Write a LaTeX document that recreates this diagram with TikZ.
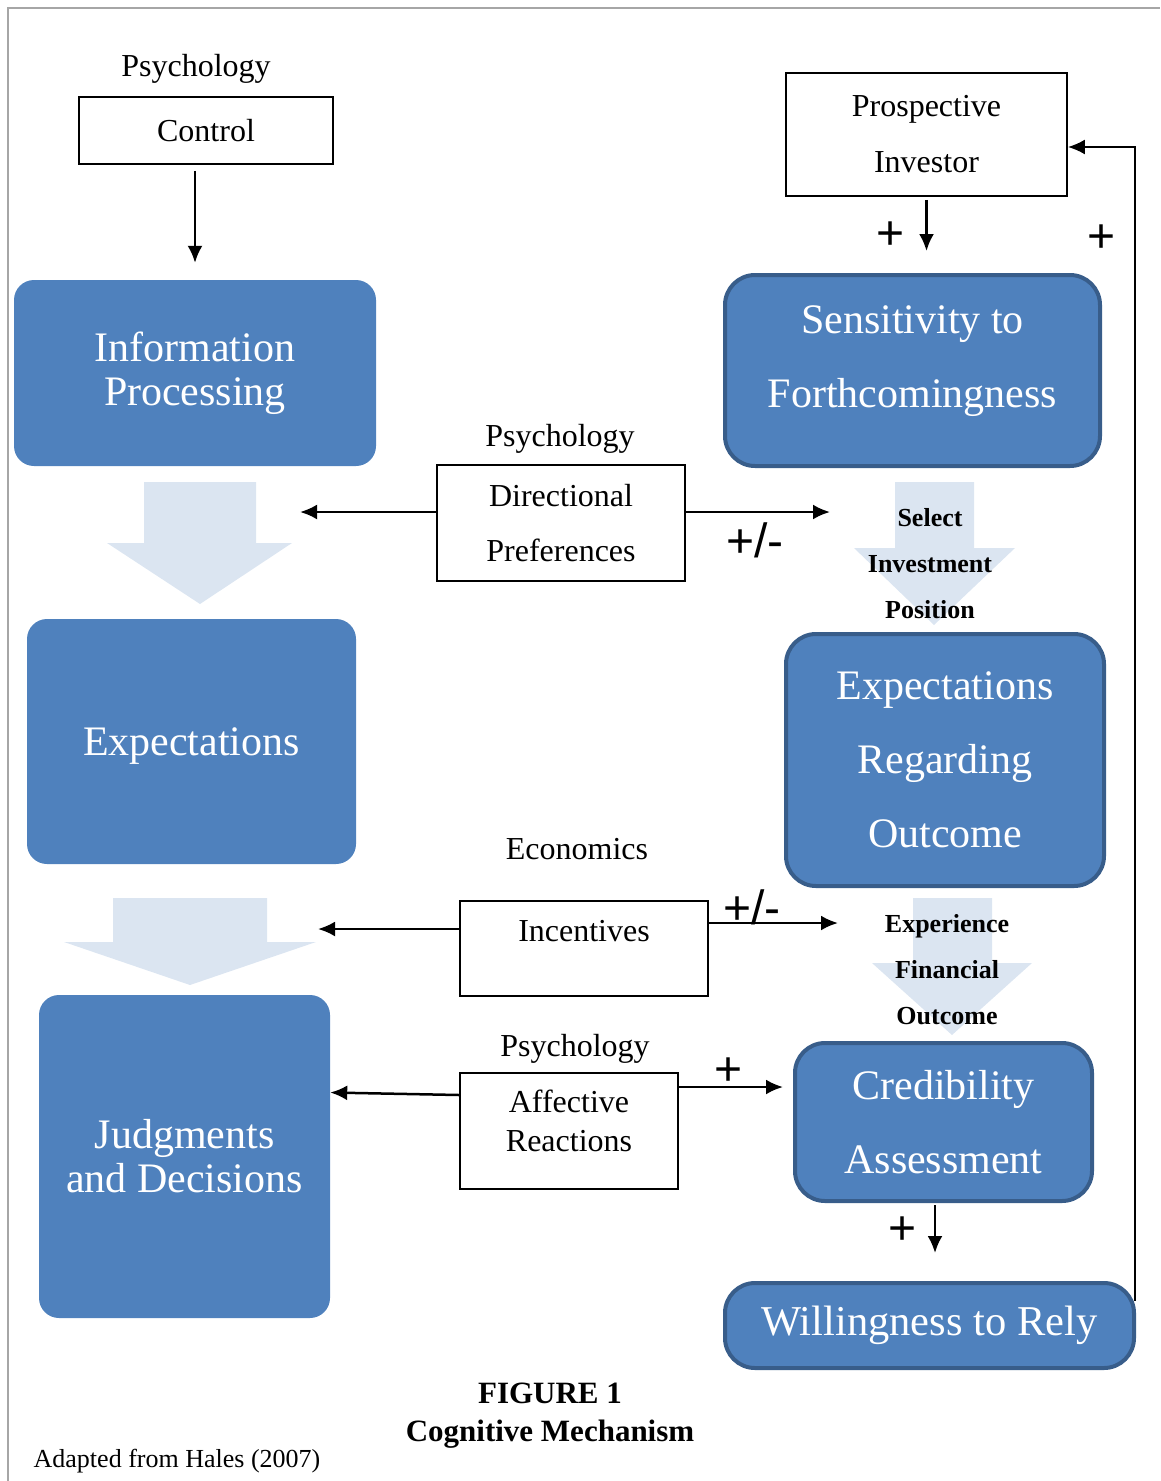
\documentclass[tikz,border=0pt]{standalone}
\usepackage{fontspec}
\setmainfont{Liberation Serif}
\newfontfamily\plusfont{Liberation Sans}
\usetikzlibrary{arrows.meta,calc}
\definecolor{boxblue}{HTML}{4F81BD}
\definecolor{boxedge}{HTML}{385D8A}
\definecolor{paleblue}{HTML}{DBE5F1}

\begin{document}
\begin{tikzpicture}[x=1pt,y=-1pt,
  blockL/.style={fill=boxblue,rounded corners=20pt,text=white,align=center,inner sep=0pt,font=\fontsize{42}{44}\selectfont},
  blockR/.style={fill=boxblue,draw=boxedge,line width=4pt,rounded corners=30pt,text=white,align=center,inner sep=0pt,font=\fontsize{42}{74}\selectfont},
  factor/.style={draw,line width=1.8pt,align=center,inner sep=0pt,font=\fontsize{32}{55}\selectfont},
  lbl/.style={yshift=-3pt,font=\fontsize{32}{38}\selectfont},
  sign/.style={inner sep=0pt,font=\plusfont\fontsize{48}{48}\selectfont},
  outcome/.style={align=center,font=\bfseries\fontsize{26}{46}\selectfont},
  bigarrow/.style={fill=paleblue},
  arr/.style={line width=2.5pt,-{Latex[length=17pt,width=15pt]}}]
\useasboundingbox (0,0) rectangle (1160,1481);
\draw[gray!70,line width=1.5pt] (8,1481) -- (8,8) -- (1160,8);

\fill[bigarrow] (144,482) -- (256,482) -- (256,543) -- (292,543) -- (200,604) -- (107,543) -- (144,543) -- cycle;
\fill[bigarrow] (113,898) -- (267,898) -- (267,942) -- (316,942) -- (190,985) -- (64,942) -- (113,942) -- cycle;
\fill[bigarrow] (895,482) -- (974,482) -- (974,548) -- (1015,548) -- (934,625) -- (854,548) -- (895,548) -- cycle;
\fill[bigarrow] (913,898) -- (992,898) -- (992,963) -- (1032,963) -- (952,1035) -- (872,963) -- (913,963) -- cycle;

\node[lbl] (psy1) at (196,66) {Psychology};
\node[factor,minimum width=254pt,minimum height=67pt] (ctrl) at (206,130.5) {Control};
\node[blockL,minimum width=362pt,minimum height=186pt] (info) at (195,373) {Information\\Processing};
\node[blockL,minimum width=329pt,minimum height=245pt,text depth=0pt] (exp) at (191.5,741.5) {Expectations};
\node[blockL,minimum width=291pt,minimum height=323pt] (judg) at (184.5,1156.5) {Judgments\\and Decisions};

\node[lbl] (psy2) at (560,436) {Psychology};
\node[factor,minimum width=248pt,minimum height=116pt] (dir) at (561,523) {Directional\\Preferences};
\node[lbl] (econ) at (577,846) {Economics};
\node[factor,minimum width=248pt,minimum height=95pt,text depth=35pt] (inc) at (584,948.5) {Incentives};
\node[lbl] (psy3) at (575,1046) {Psychology};
\node[factor,minimum width=218pt,minimum height=116pt,text depth=20pt,font=\fontsize{32}{39}\selectfont] (aff) at (569,1131) {Affective\\Reactions};

\node[factor,minimum width=281pt,minimum height=123pt,font=\fontsize{32}{56}\selectfont] (inv) at (926.5,134.5) {Prospective\\Investor};
\node[blockR,minimum width=375pt,minimum height=191pt,text depth=27pt] (sens) at (912.5,370.5) {Sensitivity to\\Forthcomingness};
\node[outcome] (select) at (930,564) {Select\\Investment\\Position};
\node[blockR,minimum width=318pt,minimum height=252pt] (expo) at (945,760) {Expectations\\Regarding\\Outcome};
\node[outcome] (exper) at (947,970) {Experience\\Financial\\Outcome};
\node[blockR,minimum width=297pt,minimum height=158pt] (cred) at (943.5,1122) {Credibility\\Assessment};
\node[blockR,minimum width=409pt,minimum height=85pt,font=\fontsize{42.5}{44}\selectfont] (will) at (929.5,1325.5) {Willingness to Rely};

\node[font=\bfseries\fontsize{31}{38}\selectfont,align=center] (fig) at (550,1416) {FIGURE 1\\Cognitive Mechanism};
\node[font=\fontsize{26}{30}\selectfont] (src) at (177,1461) {Adapted from Hales (2007)};

\node[sign] (s1) at (891,236) {+};
\node[sign] (s2) at (1102,239) {+};
\node[sign] (s3) at (755,540) {+/-};
\node[sign] (s4) at (752,907) {+/-};
\node[sign] (s5) at (729,1072) {+};
\node[sign] (s6) at (903,1231) {+};

\coordinate (dirL) at (300,512);
\coordinate (dirR) at (830,512);
\coordinate (incL) at (318,929);
\coordinate (incR) at (838,923);
\coordinate (credS) at ($(cred.south)+(-8.5,0)$);

\draw[arr,shorten <=6pt,shorten >=17pt] (ctrl.south -| info.north) -- (info.north);
\draw[arr] (dir.west |- dirL) -- (dirL);
\draw[arr] (dir.east |- dirR) -- (dirR);
\draw[arr] (inc.west |- incL) -- (incL);
\draw[arr] (inc.east |- incR) -- (incR);
\draw[arr] ($(aff.west)+(0,-36)$) -- ($(judg.east)+(0,-64)$);
\draw[arr] ($(aff.east)+(0,-44)$) -- ($(cred.west)+(-10,-35)$);
\draw[arr,shorten <=3pt,shorten >=22pt] (inv.south) -- (inv.south |- sens.north);
\draw[arr,shorten <=2pt,shorten >=28pt] (credS) -- (credS |- will.north);
\draw[arr,line width=2pt] ($(will.east)+(-1,-25)$) |- ($(inv.east)+(0,12.5)$);
\end{tikzpicture}
\end{document}
